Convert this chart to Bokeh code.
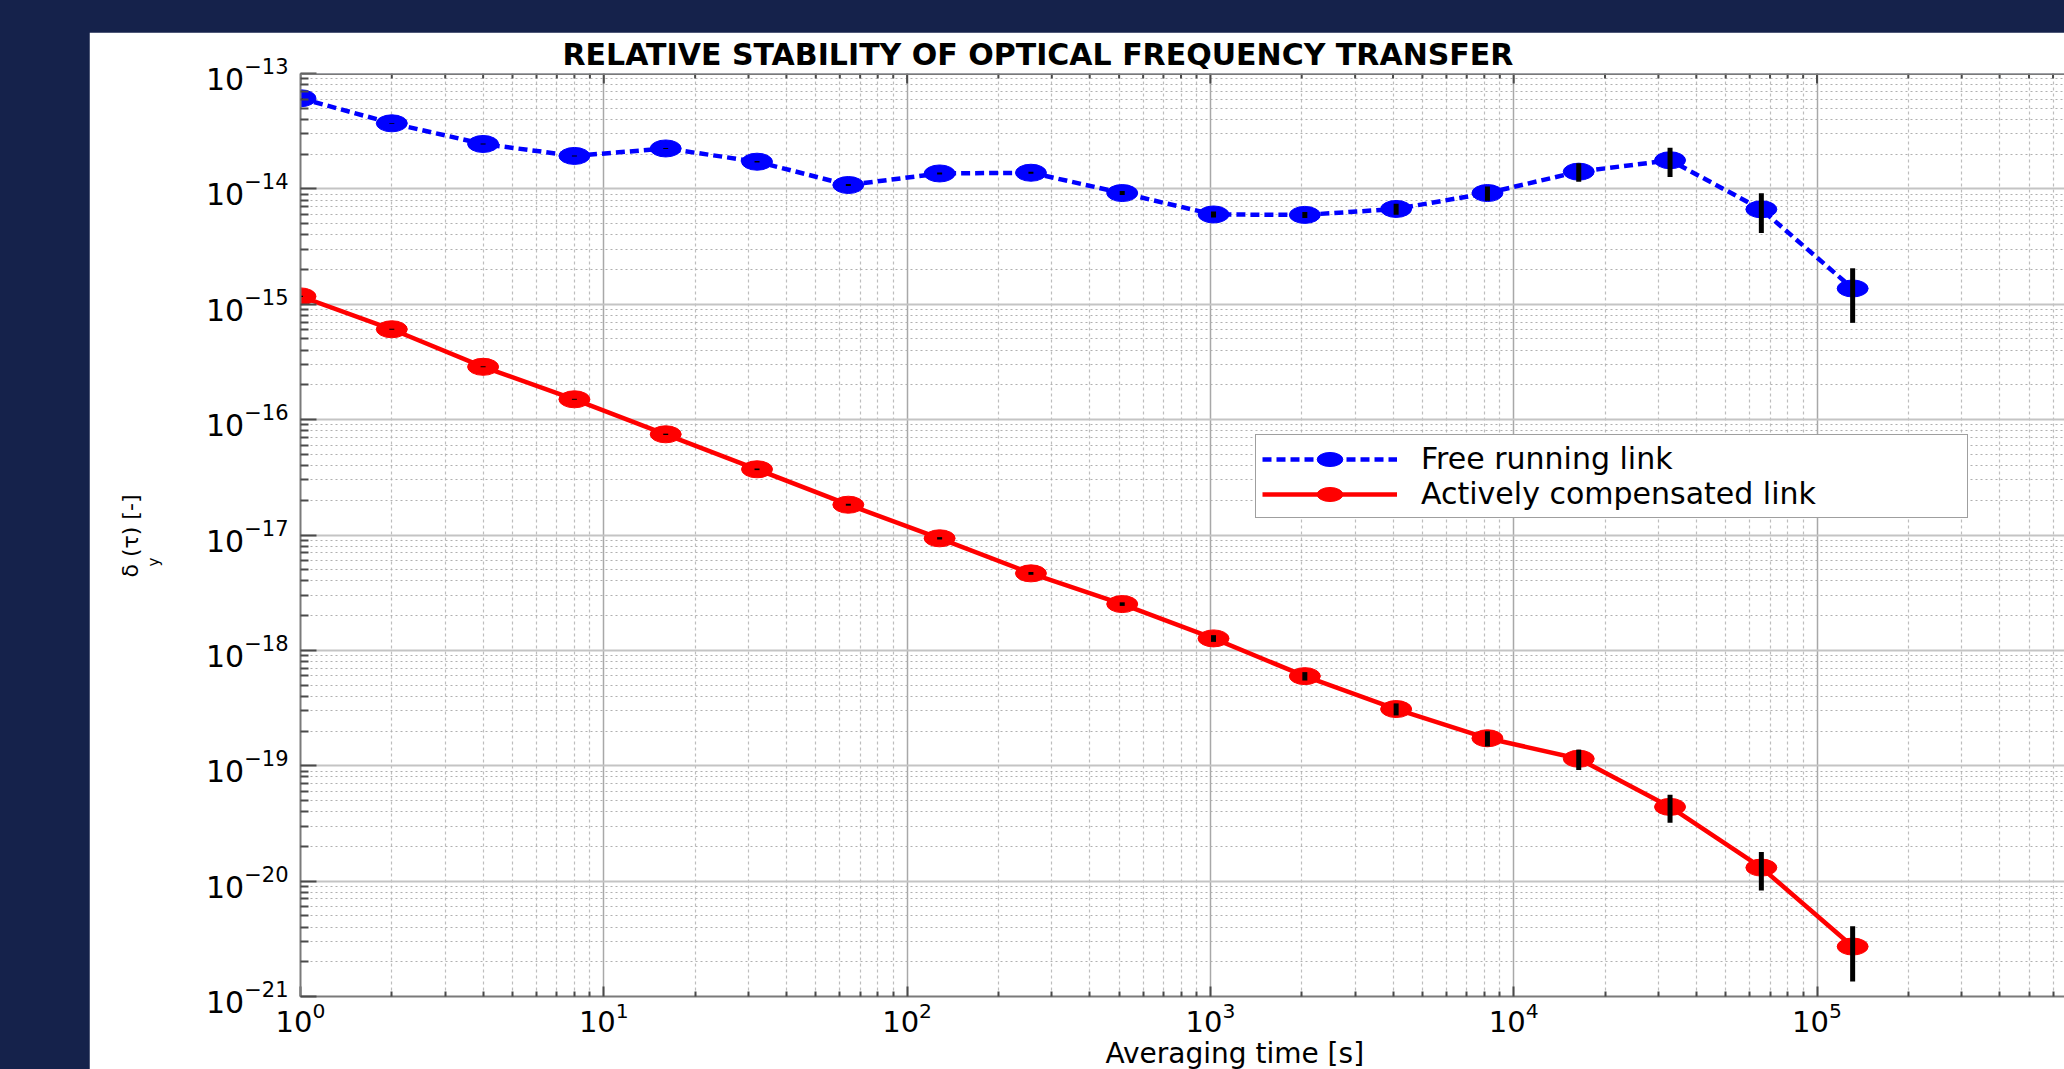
from bokeh.plotting import figure
from bokeh.models import (FixedTicker, Legend, LegendItem, Spacer, Title, Span,
                          GlobalInlineStyleSheet, Range1d)
from bokeh.layouts import column, row
from bokeh.embed import file_html
from bokeh.resources import INLINE
import math

# ---------------- data ----------------
tau = [1, 2, 4, 8, 16, 32, 64, 128, 256, 512, 1024, 2048, 4096, 8192,
       16384, 32768, 65536, 131072]

free_running = [6.1e-14, 3.7e-14, 2.45e-14, 1.93e-14, 2.24e-14, 1.72e-14, 1.08e-14,
                1.36e-14, 1.38e-14, 9.2e-15, 6.0e-15, 5.95e-15, 6.7e-15, 9.2e-15,
                1.41e-14, 1.77e-14, 6.65e-15, 1.37e-15]
free_err = [4e-16, 3e-16, 2.3e-16, 1.8e-16, 2.6e-16, 2.4e-16, 2.0e-16, 2.7e-16,
            2.8e-16, 3.7e-16, 3.6e-16, 3.6e-16, 7.3e-16, 1.3e-15, 2.6e-15, 5.0e-15,
            2.5e-15, 6.8e-16]

compensated = [1.17e-15, 6.07e-16, 2.87e-16, 1.50e-16, 7.46e-17, 3.71e-17, 1.83e-17,
               9.36e-18, 4.65e-18, 2.52e-18, 1.27e-18, 5.98e-19, 3.10e-19, 1.73e-19,
               1.15e-19, 4.40e-20, 1.31e-20, 2.71e-21]
comp_err = [1.2e-17, 6e-18, 3e-18, 1.5e-18, 1.0e-18, 6e-19, 3.5e-19, 2.2e-19, 1.3e-19,
            9e-20, 8.5e-20, 5e-20, 3.7e-20, 2.6e-20, 2.3e-20, 1.2e-20, 4.8e-21, 1.36e-21]

series_labels = ["Free running link", "Actively compensated link"]
title_text = "RELATIVE STABILITY OF OPTICAL FREQUENCY TRANSFER"
x_label = "Averaging time [s]"
y_label_main = "δ (τ) [-]"   # delta, gap for the subscript, (tau) [-]
y_label_sub = "y"

x_major = [1e0, 1e1, 1e2, 1e3, 1e4, 1e5]
x_minor = [m * 10 ** k for k in range(0, 6) for m in range(2, 10)]
y_major = [10.0 ** k for k in range(-21, -12)]
y_minor = [m * 10.0 ** k for k in range(-21, -13) for m in range(2, 10)]

# ---------------- style ----------------
FONT = "DejaVu Sans"
PAGE_BG = "#15224b"
BLUE = "#0000ff"
RED = "#ff0000"
AXIS_GRAY = "#7a7a7a"
TICK_GRAY = "#4a4a4a"

p = figure(width=1975, height=1037, x_axis_type="log", y_axis_type="log",
           x_range=Range1d(1, 10 ** 5.816), y_range=Range1d(1e-21, 1e-13),
           output_backend="svg", toolbar_location=None,
           min_border_left=211, min_border_right=0, min_border_top=41,
           min_border_bottom=73)
p.background_fill_color = "white"
p.border_fill_color = "white"
p.outline_line_color = None

xt = FixedTicker(ticks=x_major, minor_ticks=x_minor)
yt = FixedTicker(ticks=y_major, minor_ticks=y_minor)
p.xaxis.ticker = xt
p.yaxis.ticker = yt
p.xgrid.ticker = xt
p.ygrid.ticker = yt


def style_axis(ax, maj_in, min_in):
    ax.axis_line_color = AXIS_GRAY
    ax.axis_line_width = 2
    ax.major_tick_line_color = TICK_GRAY
    ax.major_tick_line_width = 2
    ax.major_tick_out = 0
    ax.major_tick_in = maj_in
    ax.minor_tick_line_color = TICK_GRAY
    ax.minor_tick_line_width = 2
    ax.minor_tick_out = 0
    ax.minor_tick_in = min_in
    ax.major_label_text_font = FONT
    ax.major_label_text_color = "black"


for ax in p.xaxis:
    style_axis(ax, 10, 5)
    ax.major_label_text_font_size = "29px"
    ax.major_label_standoff = 5
for ax in p.yaxis:
    style_axis(ax, 16, 8)
    ax.major_label_text_font_size = "30px"
    ax.major_label_standoff = 12

p.xgrid.grid_line_color = "#a8a8a8"
p.xgrid.grid_line_width = 1.5
p.xgrid.minor_grid_line_color = "#bdbdbd"
p.xgrid.minor_grid_line_width = 1.2
p.xgrid.minor_grid_line_dash = "3 3"
p.ygrid.grid_line_color = "#c4c4c4"
p.ygrid.grid_line_width = 2
p.ygrid.minor_grid_line_color = "#b0b0b0"
p.ygrid.minor_grid_line_width = 1.2
p.ygrid.minor_grid_line_dash = "2 3"

# top box edge with inward ticks (MATLAB style box)
p.add_layout(Span(location=y_major[-1], dimension="width", line_color=AXIS_GRAY,
                  line_width=3))
p.ray(x=x_major, y=[y_major[-1]] * len(x_major), length=10, angle=-math.pi / 2,
      length_units="screen", line_color=TICK_GRAY, line_width=2)
p.ray(x=x_minor, y=[y_major[-1]] * len(x_minor), length=5, angle=-math.pi / 2,
      length_units="screen", line_color=TICK_GRAY, line_width=2)

# ---------------- data marks ----------------
bl = p.line(tau, free_running, line_color=BLUE, line_width=4.5, line_dash="9 5")
be = p.ellipse(x=tau, y=free_running, width=31, height=17, width_units="screen",
               height_units="screen", fill_color=BLUE, line_color=BLUE)
rl = p.line(tau, compensated, line_color=RED, line_width=4.5)
re_ = p.ellipse(x=tau, y=compensated, width=31, height=17, width_units="screen",
                height_units="screen", fill_color=RED, line_color=RED)

p.segment(x0=tau, x1=tau,
          y0=[v - e for v, e in zip(free_running, free_err)],
          y1=[v + e for v, e in zip(free_running, free_err)],
          line_color="black", line_width=5)
p.segment(x0=tau, x1=tau,
          y0=[v - e for v, e in zip(compensated, comp_err)],
          y1=[v + e for v, e in zip(compensated, comp_err)],
          line_color="black", line_width=5)

legend = Legend(items=[LegendItem(label=series_labels[0], renderers=[bl, be]),
                       LegendItem(label=series_labels[1], renderers=[rl, re_])],
                location=(955, 478), margin=0, padding=6, spacing=0,
                glyph_width=135, glyph_height=32, label_height=32, label_width=540,
                label_standoff=24, label_text_font=FONT,
                label_text_font_size="30px", label_text_color="black",
                border_line_color="#404040", border_line_width=1.5,
                background_fill_color="white", background_fill_alpha=1.0)
p.add_layout(legend, "center")

# ---------------- texts ----------------
p.title = Title(text=title_text, align="left", offset=262, standoff=0,
                vertical_align="top",
                text_font=FONT, text_font_style="bold", text_font_size="30px",
                text_color="black")
p.add_layout(Title(text=x_label, align="left", offset=805, standoff=0,
                   text_font=FONT, text_font_style="normal", text_font_size="28px",
                   text_color="black"), "below")
# spacer between tick labels and the y label
p.add_layout(Title(text=" ", standoff=38, text_font_size="1px"), "left")
p.add_layout(Title(text=y_label_sub, align="left", offset=430, standoff=0,
                   text_font=FONT, text_font_style="normal", text_font_size="15px",
                   text_color="black"), "left")
p.add_layout(Title(text=y_label_main, align="left", offset=419, standoff=0,
                   text_font=FONT, text_font_style="normal", text_font_size="22px",
                   text_color="black"), "left")

layout = column(Spacer(height=32), row(Spacer(width=89), p))
layout.stylesheets = [GlobalInlineStyleSheet(
    css=f"html, body {{ background-color: {PAGE_BG}; }}")]

open("out.html", "w").write(file_html(layout, INLINE))
